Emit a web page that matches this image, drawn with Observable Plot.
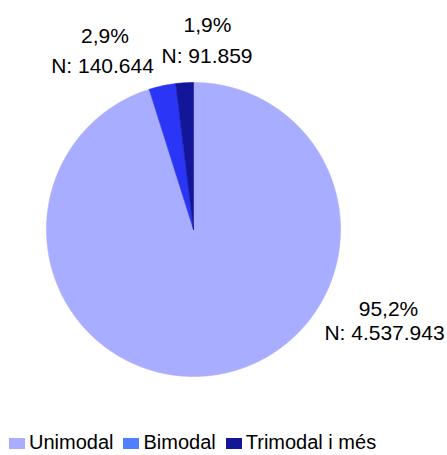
<!DOCTYPE html>
<html><head><meta charset="utf-8">
<script src="https://cdn.jsdelivr.net/npm/d3@7"></script>
<script src="https://cdn.jsdelivr.net/npm/@observablehq/plot@0.6"></script>
<style>
body{margin:0;background:#fff;font-family:"Liberation Sans",Arial,sans-serif;}
#chart{position:relative;width:447px;height:455px;overflow:hidden;}
#chart svg{display:block;}
#legend{position:absolute;left:9px;top:432px;font-size:20px;line-height:20px;display:flex;white-space:nowrap;color:#000;}
#legend .item{display:flex;align-items:baseline;margin-right:10px;}
#legend .sw{display:inline-block;width:16px;height:11px;margin-right:4px;}
</style></head><body><div id="chart"></div>
<script>
// ---- data ----
const categories = ["Unimodal", "Bimodal", "Trimodal i més"];
const counts = [4537943, 140644, 91859];
const pctLabels = ["95,2%", "2,9%", "1,9%"];
const nLabels = ["N: 4.537.943", "N: 140.644", "N: 91.859"];
const sliceColors = ["#A9ADFF", "#2A35F5", "#14169A"];
const legendColors = ["#A9ADFF", "#4F80FF", "#14169A"];

// ---- layout ----
const W = 447, H = 428, cx = 193, cy = 229, R = 147;
const labelLayout = [
  {dx1: 195, dy1: 86, dx2: 191, dy2: 110},
  {dx1: -88.5, dy1: -187, dx2: -91, dy2: -157},
  {dx1: 14, dy1: -198, dx2: 13.5, dy2: -167}
];

const arcs = d3.pie().sort(null).value(d => d)(counts);
const pts = [];
arcs.forEach((a, i) => {
  const cat = categories[i];
  pts.push({cat, x: cx, y: cy});
  const step = Math.PI / 360;
  const n = Math.max(2, Math.ceil((a.endAngle - a.startAngle) / step));
  for (let k = 0; k <= n; k++) {
    const t = a.startAngle + (a.endAngle - a.startAngle) * k / n;
    pts.push({cat, x: cx + R * Math.sin(t), y: cy - R * Math.cos(t)});
  }
  pts.push({cat, x: cx, y: cy});
});

const labels = [];
categories.forEach((c, i) => {
  const L = labelLayout[i];
  labels.push({x: cx + L.dx1, y: cy + L.dy1, t: pctLabels[i]});
  labels.push({x: cx + L.dx2, y: cy + L.dy2, t: nLabels[i]});
});

const plot = Plot.plot({
  width: W, height: H, margin: 0,
  x: {domain: [0, W], range: [0, W], axis: null},
  y: {domain: [0, H], range: [0, H], axis: null},
  color: {domain: categories, range: sliceColors},
  style: {fontFamily: "'Liberation Sans', Arial, sans-serif", background: "#fff"},
  marks: [
    Plot.line(pts, {x: "x", y: "y", z: "cat", fill: "cat", stroke: "cat", strokeWidth: 0.6, curve: "linear"}),
    Plot.text(labels, {x: "x", y: "y", text: "t", fontSize: 21, textAnchor: "middle", lineAnchor: "bottom", fill: "#000"})
  ]
});
const chart = document.getElementById("chart");
chart.appendChild(plot);

const legend = document.createElement("div");
legend.id = "legend";
categories.forEach((c, i) => {
  const item = document.createElement("span");
  item.className = "item";
  const sw = document.createElement("span");
  sw.className = "sw";
  sw.style.background = legendColors[i];
  const tx = document.createElement("span");
  tx.textContent = c;
  item.appendChild(sw); item.appendChild(tx);
  legend.appendChild(item);
});
chart.appendChild(legend);
</script></body></html>
